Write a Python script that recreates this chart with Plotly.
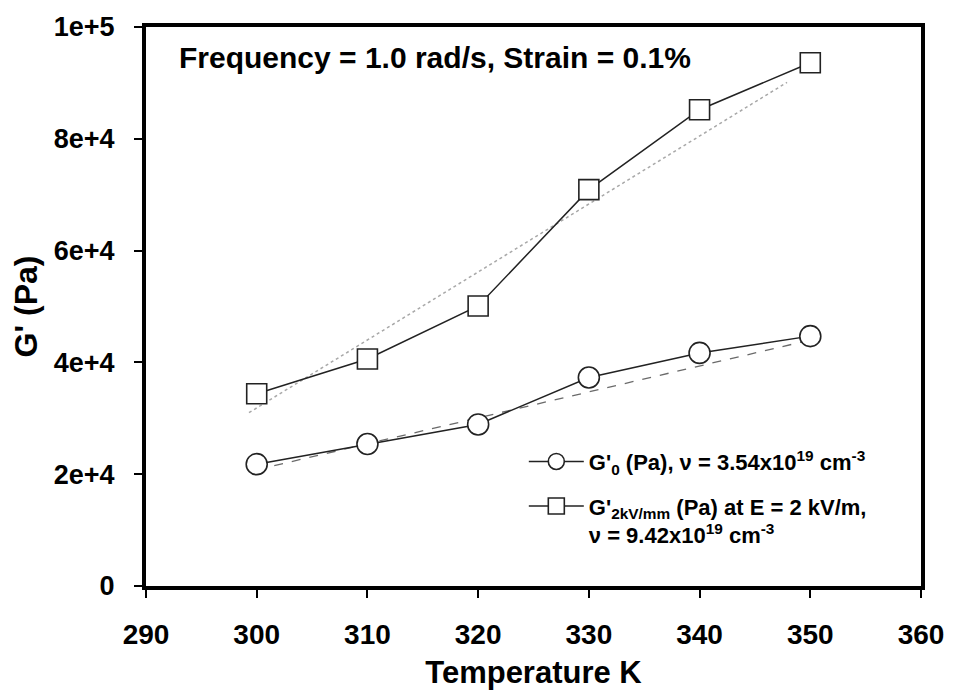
import plotly.graph_objects as go

temps = [300, 310, 320, 330, 340, 350]
g0 = [21800, 25400, 28900, 37300, 41700, 44700]
g2kv = [34400, 40600, 50100, 70900, 85200, 93600]

fit_g0_x = [300, 350]
fit_g0_y = [20800, 44000]
fit_g2kv_x = [299.3, 347.9]
fit_g2kv_y = [31000, 90100]

x_ticks = [290, 300, 310, 320, 330, 340, 350, 360]
y_ticks = [0, 20000, 40000, 60000, 80000, 100000]
y_ticklabels = ["0", "2e+4", "4e+4", "6e+4", "8e+4", "1e+5"]

label_g0 = "G'<sub>0</sub> (Pa), \u03bd = 3.54x10<sup>19</sup> cm<sup>-3</sup>"
label_g2 = ("G'<sub>2kV/mm</sub> (Pa) at E = 2 kV/m,<br>"
            "\u03bd = 9.42x10<sup>19</sup> cm<sup>-3</sup>")
note = "Frequency = 1.0 rad/s, Strain = 0.1%"

FONT = "Liberation Sans, Arial, sans-serif"

fig = go.Figure()
fig.add_trace(go.Scatter(x=fit_g2kv_x, y=fit_g2kv_y, mode="lines",
                         line=dict(color="#a8a8a8", width=1.5, dash="dot"),
                         showlegend=False, hoverinfo="skip"))
fig.add_trace(go.Scatter(x=fit_g0_x, y=fit_g0_y, mode="lines",
                         line=dict(color="#6a6a6a", width=1.3, dash="dash"),
                         showlegend=False, hoverinfo="skip"))
fig.add_trace(go.Scatter(x=temps, y=g0, mode="lines+markers", name=label_g0,
                         legendgroup="a",
                         line=dict(color="#222222", width=1.5),
                         marker=dict(symbol="circle", size=21, color="white",
                                     line=dict(color="#222222", width=1.6))))
fig.add_trace(go.Scatter(x=temps, y=g2kv, mode="lines+markers", name=label_g2,
                         legendgroup="b",
                         line=dict(color="#222222", width=1.5),
                         marker=dict(symbol="square", size=20, color="white",
                                     line=dict(color="#222222", width=1.6))))

fig.add_annotation(x=0.04, y=0.945, xref="paper", yref="paper",
                   xanchor="left", yanchor="middle", showarrow=False,
                   text=note,
                   font=dict(family=FONT, size=30, color="black", weight="bold"))

fig.update_layout(
    width=956, height=697,
    margin=dict(l=146, r=31, t=20, b=105),
    paper_bgcolor="white", plot_bgcolor="white",
    font=dict(family=FONT, color="black"),
    legend=dict(x=0.4875, y=0.26, xanchor="left", yanchor="top",
                bgcolor="rgba(0,0,0,0)", itemwidth=55, valign="top",
                tracegroupgap=13,
                font=dict(family=FONT, size=22, color="black", weight="bold")),
    xaxis=dict(range=[290, 360], tickvals=x_ticks, ticks="outside",
               ticklen=8, tickwidth=1.5, tickcolor="black",
               showline=True, linewidth=4, linecolor="black", mirror=True,
               showgrid=False, zeroline=False, ticklabelstandoff=12,
               tickfont=dict(family=FONT, size=28, weight="bold"),
               title=dict(text="Temperature K", standoff=14,
                          font=dict(family=FONT, size=31, weight="bold"))),
    yaxis=dict(range=[0, 100000], tickvals=y_ticks, ticktext=y_ticklabels,
               ticks="outside", ticklen=8, tickwidth=1.5, tickcolor="black",
               showline=True, linewidth=4, linecolor="black", mirror=True,
               showgrid=False, zeroline=False, ticklabelstandoff=14,
               tickfont=dict(family=FONT, size=27, weight="bold"),
               title=dict(text="G' (Pa)", standoff=8,
                          font=dict(family=FONT, size=32, weight="bold"))),
)

fig.write_html("out.html")
